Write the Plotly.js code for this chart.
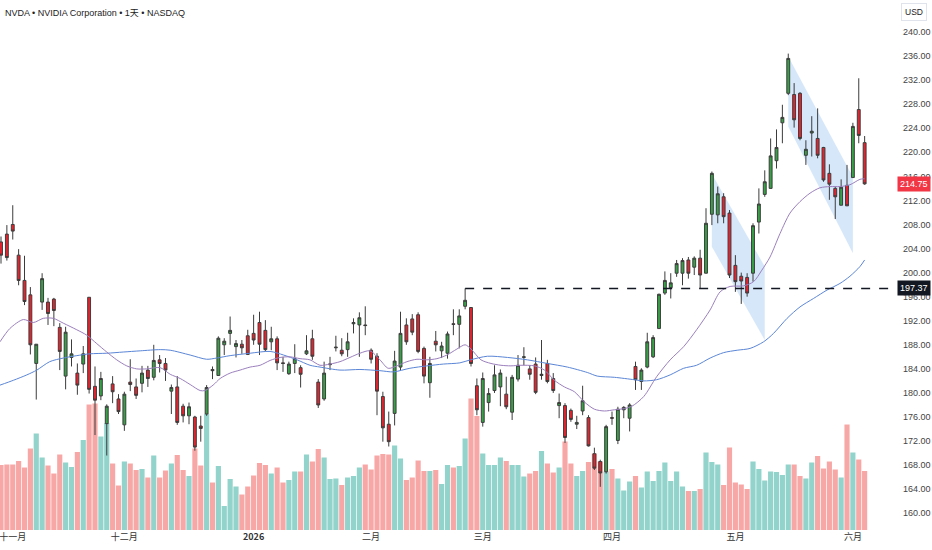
<!DOCTYPE html>
<html>
<head>
<meta charset="utf-8">
<script src="https://cdn.plot.ly/plotly-3.0.1.min.js"></script>
<style>html,body{margin:0;padding:0;background:#fff;}#chart{width:932px;height:550px;}</style>
</head>
<body>
<div id="chart"></div>
<script>
// ---- data (one entry per trading day, Oct 30 2025 .. Jun 3 2026) ----
const opens = [205.1,206.4,208.0,202.9,198.7,196.3,184.9,195.1,195.1,195.6,190.9,182.8,185.9,183.3,184.8,195.9,181.1,179.5,174.9,181.5,179.0,174.7,181.8,181.0,181.6,183.8,182.6,185.5,184.9,180.3,181.0,177.8,176.2,176.0,174.5,176.5,183.9,182.9,188.0,189.9,187.7,188.1,189.5,189.9,191.7,190.4,188.5,189.0,185.0,183.2,184.9,184.2,186.5,189.0,181.8,179.0,184.7,187.5,187.1,187.2,191.5,191.3,191.3,187.1,186.1,179.4,174.8,176.6,184.3,191.3,192.3,193.0,187.4,181.7,188.6,187.0,186.6,191.5,191.4,194.4,194.2,181.2,175.1,178.4,180.4,181.0,179.8,176.8,182.3,185.9,184.0,184.8,182.9,184.9,182.4,177.9,177.9,177.1,174.8,177.0,175.9,169.9,168.6,166.9,175.9,172.1,177.2,175.8,184.4,181.9,184.3,186.0,190.7,196.6,197.5,199.9,199.9,202.1,200.9,202.4,199.9,209.7,209.6,212.6,209.9,201.2,199.4,199.2,199.9,208.4,213.0,214.0,218.6,224.9,229.8,229.6,229.8,219.5,223.2,222.3,220.8,216.5,214.0,211.2,214.5,215.8,227.1,221.6];
const highs = [206.0,207.9,211.2,203.9,202.8,197.6,188.1,199.9,195.8,195.8,191.6,191.0,188.9,184.9,187.8,195.9,184.4,183.5,178.1,182.8,179.8,180.2,185.6,182.4,184.5,184.5,188.0,186.3,185.8,181.4,182.8,178.2,178.4,176.2,176.2,181.3,184.4,189.4,189.1,192.7,188.8,188.8,190.5,193.0,193.5,192.1,191.0,189.4,186.0,185.2,188.1,184.6,189.6,190.5,182.3,185.2,186.0,189.5,189.1,190.0,192.4,193.4,194.4,187.4,186.6,180.2,176.9,187.0,193.5,192.4,193.1,193.4,187.7,186.0,190.3,188.5,190.2,193.9,193.9,197.37,194.2,182.4,183.4,180.8,184.6,183.9,182.7,183.0,186.3,187.6,184.6,185.9,188.8,185.5,183.3,179.9,178.3,177.4,176.2,181.2,176.3,170.9,168.9,174.7,176.9,177.7,177.8,178.3,185.2,184.1,190.0,189.6,196.5,200.2,199.9,202.1,202.4,202.6,202.7,203.8,210.7,216.8,214.3,213.2,210.4,202.9,200.0,199.9,208.2,214.0,217.0,222.3,223.8,227.9,236.4,231.5,230.0,222.0,226.0,227.3,220.9,218.0,214.3,215.5,217.9,224.9,232.3,222.7];
const lows = [201.5,202.0,205.5,197.9,194.6,186.4,178.9,193.8,191.3,191.1,183.8,180.6,184.4,179.7,183.3,179.9,173.0,178.8,169.6,178.3,176.5,173.7,180.3,179.0,180.1,181.0,182.1,183.4,182.0,176.5,174.7,175.1,174.8,170.4,171.9,176.2,182.3,182.9,186.3,188.0,185.9,186.5,186.3,188.0,186.3,186.9,187.1,183.8,183.5,183.0,183.3,180.9,186.3,185.5,177.5,178.7,183.8,186.9,186.1,186.0,189.9,186.0,189.6,184.9,176.3,171.9,171.1,174.6,183.8,188.0,189.6,186.6,181.6,179.2,186.9,185.8,185.7,189.6,187.4,193.9,184.4,176.3,174.4,176.9,180.0,177.8,177.3,175.5,181.9,184.6,182.2,179.8,182.2,181.6,180.0,175.8,171.7,175.2,174.0,176.3,171.1,167.2,164.4,166.6,174.7,171.5,175.8,173.6,180.5,180.5,184.1,185.8,190.7,196.3,195.7,199.3,197.9,199.0,199.6,197.4,199.9,207.9,208.2,208.2,199.1,196.8,194.8,196.0,198.5,206.5,212.6,214.0,217.3,221.5,229.5,224.1,222.0,217.9,219.3,219.0,215.1,212.1,208.9,211.2,211.1,215.8,221.5,214.6];
const closes = [202.9,202.5,206.9,198.7,195.2,188.0,188.1,199.0,193.2,193.7,186.9,190.1,186.5,181.3,186.5,180.6,178.8,182.4,177.8,180.2,176.9,179.8,181.4,179.6,183.3,182.4,185.4,184.9,183.8,180.9,175.1,176.2,177.7,171.0,174.1,180.9,183.7,189.1,188.6,190.4,188.2,187.5,186.4,188.8,188.1,187.2,189.0,185.0,184.9,184.8,185.7,183.1,187.0,186.1,178.0,183.3,184.8,187.6,186.5,188.5,191.7,192.5,191.2,185.6,180.3,174.2,171.9,185.3,189.9,188.5,190.1,186.9,182.8,184.9,188.0,187.8,189.8,191.4,192.8,195.4,184.9,177.2,182.4,179.9,183.0,183.3,177.7,182.6,184.6,186.0,183.1,180.1,183.1,181.9,180.4,178.4,172.6,175.6,175.1,178.7,171.2,167.5,166.7,174.4,175.8,177.3,177.6,178.0,182.2,183.8,188.5,189.2,196.4,198.7,198.3,201.5,202.0,199.9,202.4,199.6,208.2,216.5,213.1,209.3,199.6,198.5,198.6,196.6,207.8,211.4,215.1,219.4,220.8,225.8,235.6,225.4,222.3,220.5,223.5,219.5,215.4,214.7,212.6,214.2,211.1,224.3,222.8,214.75];
const volumes = [130,131,131,138,125,163,193,145,129,113,151,135,126,156,180,251,253,187,214,133,89,137,133,120,122,105,149,105,119,133,150,120,108,163,129,232,95,128,48,102,87,71,87,109,134,130,113,125,95,100,117,117,151,137,162,145,102,103,90,105,108,125,131,121,149,152,151,169,143,100,105,139,118,118,120,92,130,125,128,183,263,228,153,130,130,145,138,130,130,107,113,118,158,133,115,125,177,133,108,118,136,153,137,117,122,103,79,97,108,85,117,98,118,135,98,117,87,78,78,82,155,136,131,90,165,95,91,82,137,122,99,117,116,110,131,131,108,103,135,148,123,137,121,105,211,155,141,118];

// moving averages (position in trading days, value)
const maFastX = [0.83,2.5,4.8,6.5,8.2,9.9,11.6,13.9,15.6,17.3,19,20.7,22.4,24.1,25.8,28.1,29.8,31.5,33.2,34.9,35.7,37.1,38.3,40,41.7,43.4,45.1,46.8,48.5,50.2,51.9,53.6,55.3,57,58.7,60.4,62.1,63.8,65.5,66.9,68.4,70.1,71.8,73.5,75.2,76.9,78.6,80,81,82.7,84.4,86.1,87.8,89.5,91.8,93.5,95.2,96.9,98.6,100.3,102,103.7,105.4,107.1,108.4,110.4,112.6,114.9,117.2,119.4,121.7,123.4,125.1,127.4,129.1,130.5,131.9,133.6,135.3,137,138.7,140.4,142.1,143.8,145.5,147.2,148];
const maFastY = [188.5,190.7,192.2,191.7,192.4,192.4,191.6,190.5,189.6,188.2,186.8,185.5,184.5,184.0,184.0,184.2,183.1,182.4,181.4,180.4,180.4,181.3,182.4,183.3,183.8,184.3,184.6,185.4,185.9,186.0,185.7,185.5,184.6,184.8,185.2,185.9,186.6,187.0,185.5,184.1,184.5,185.2,185.6,185.5,185.7,186.3,187.3,188.0,187.3,185.5,184.9,184.6,184.5,184.6,184.5,183.8,182.1,181.0,180.2,178.5,177.3,177.0,177.2,177.4,177.8,179.4,182.7,185.5,187.7,190.5,193.8,196.8,197.7,197.8,198.5,200.4,202.6,206.5,209.9,211.8,213.2,214.1,214.3,214.3,214.6,215.5,215.6];
const maSlowX = [0.83,3.1,5.4,7.1,9.3,11.6,13.9,16.1,19,21.8,24.7,28.1,29.8,33.2,36,37.7,40,43.4,46.8,49.1,51.4,53.6,55.3,58.7,62.1,65.5,67.8,70.6,73.5,76.3,79.1,80.9,83.8,87.2,90.6,94,97.4,100.8,102.5,105.4,108.8,110.4,112.6,114.9,117.2,119.4,121.7,124,126.3,128.5,130.8,132.5,134.8,137,139.3,141.6,143.8,145.5,147.2,148];
const maSlowY = [181.3,182.1,183.0,183.8,185.2,185.8,186.2,186.5,186.6,186.8,187.0,187.2,187.1,186.3,185.6,185.8,186.2,186.6,186.9,186.3,185.5,184.6,184.3,183.8,183.9,183.7,183.5,184.1,184.5,184.8,185.0,185.5,186.1,185.9,185.5,184.9,184.3,183.4,182.8,182.6,182.2,182.0,182.2,183.0,184.1,184.6,185.8,186.7,187.1,187.4,188.5,189.9,192.4,194.3,195.7,197.1,198.2,199.4,201.0,202.1];

// x-axis month labels (trading-day index where each month starts)
const monthTickIdx = [3,22,44,64,83,105,126,146];
const monthTickText = ['十一月','十二月','<b>2026</b>','二月','三月','四月','五月','六月'];
const priceTicks = [160,164,168,172,176,180,184,188,192,196,200,204,208,212,216,220,224,228,232,236,240];
const lastPrice = 214.75;
const levelPrice = 197.37;
const levelStartIdx = 80;
const titleText = 'NVDA • NVIDIA Corporation • 1天 • NASDAQ';

const dayIdx = opens.map((_, i) => i + 1);
const volColors = opens.map((o, i) => closes[i] >= o ? '#92d3cb' : '#f7a8a6');

const XMIN = 0.83, XMAX = 153.17;

const traces = [
  {type:'bar', x:dayIdx, y:volumes, xaxis:'x', yaxis:'y', marker:{color:volColors, line:{width:0}}, width:0.88, hoverinfo:'skip', showlegend:false},
  {type:'scatter', mode:'lines', x:maSlowX, y:maSlowY, xaxis:'x', yaxis:'y2', line:{color:'#5b86d6', width:1, shape:'spline', smoothing:0.8}, hoverinfo:'skip', showlegend:false},
  {type:'scatter', mode:'lines', x:maFastX, y:maFastY, xaxis:'x', yaxis:'y2', line:{color:'#9b7fbd', width:1, shape:'spline', smoothing:0.8}, hoverinfo:'skip', showlegend:false},
  {type:'candlestick', x:dayIdx, open:opens, high:highs, low:lows, close:closes, xaxis:'x', yaxis:'y2',
    increasing:{line:{color:'#3c3c3c', width:1}, fillcolor:'#36a145'},
    decreasing:{line:{color:'#3c3c3c', width:1}, fillcolor:'#e8222d'},
    whiskerwidth:0, showlegend:false, hoverinfo:'skip'}
];

const layout = {
  width:932, height:550,
  margin:{l:0, r:37, t:0, b:20},
  paper_bgcolor:'#ffffff', plot_bgcolor:'#ffffff',
  showlegend:false,
  font:{family:'Liberation Sans, Arial, sans-serif', size:9, color:'#444'},
  xaxis:{type:'linear', range:[XMIN, XMAX], showgrid:false, zeroline:false, showline:false, ticks:'',
    tickvals:monthTickIdx, ticktext:monthTickText, ticklabeloverflow:'allow',
    tickfont:{size:9, color:'#333', family:'Noto Sans CJK SC, Liberation Sans, sans-serif'},
    rangeslider:{visible:false}, fixedrange:true},
  yaxis:{range:[0,1060], visible:false, showgrid:false, zeroline:false, fixedrange:true},
  yaxis2:{overlaying:'y', side:'right', range:[157.22, 245.31], showgrid:false, zeroline:false, showline:false, ticks:'',
    tickvals:priceTicks, tickformat:'.2f', tickfont:{size:9, color:'#444'}, ticklabelstandoff:7, fixedrange:true},
  shapes:[
    {type:'path', xref:'x', yref:'y2', layer:'below', path:'M 122,216.4 L 131,201.0 L 131,188.8 L 122,204.3 Z', fillcolor:'rgba(90,160,235,0.25)', line:{width:0}},
    {type:'path', xref:'x', yref:'y2', layer:'below', path:'M 135,235.9 L 146,215.9 L 146,203.2 L 135,224.3 Z', fillcolor:'rgba(90,160,235,0.25)', line:{width:0}},
    {type:'line', xref:'x', yref:'y2', x0:levelStartIdx, x1:XMAX, y0:levelPrice, y1:levelPrice, line:{color:'#131722', width:1.5, dash:'dash'}}
  ],
  annotations:[
    {xref:'paper', yref:'paper', x:0, y:1, xanchor:'left', yanchor:'top', xshift:3, yshift:-6, showarrow:false,
      text:titleText, font:{size:9, color:'#222', family:'Liberation Sans, Noto Sans CJK SC, sans-serif'}},
    {xref:'paper', yref:'paper', x:1, y:1, xanchor:'left', yanchor:'top', xshift:6, yshift:-3, showarrow:false,
      text:'USD', font:{size:8.5, color:'#222'}, bordercolor:'#e0e3eb', borderwidth:1, borderpad:3, bgcolor:'#fff'},
    {xref:'paper', yref:'y2', x:1, y:lastPrice, xanchor:'left', yanchor:'middle', xshift:2, showarrow:false,
      text:lastPrice.toFixed(2), font:{size:9, color:'#fff'}, bgcolor:'#f23645', borderpad:2},
    {xref:'paper', yref:'y2', x:1, y:levelPrice, xanchor:'left', yanchor:'middle', xshift:2, showarrow:false,
      text:levelPrice.toFixed(2), font:{size:9, color:'#fff'}, bgcolor:'#131722', borderpad:2}
  ]
};

Plotly.newPlot('chart', traces, layout, {staticPlot:true, displayModeBar:false});
</script>
</body>
</html>
